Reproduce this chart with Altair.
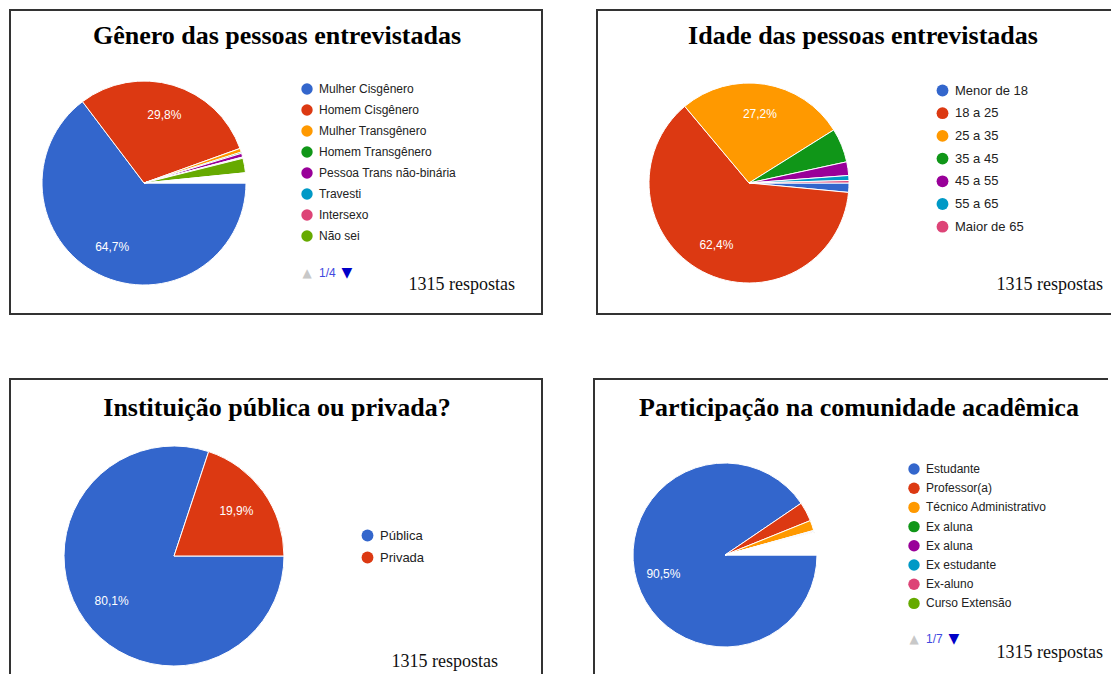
import math
import altair as alt

# ---------------- data ----------------
colors = ["#3366cc", "#dc3912", "#ff9900", "#109618", "#990099", "#0099c6", "#dd4477", "#66aa00"]

genero_title = "Gênero das pessoas entrevistadas"
genero_cats = ["Mulher Cisgênero", "Homem Cisgênero", "Mulher Transgênero", "Homem Transgênero",
               "Pessoa Trans não-binária", "Travesti", "Intersexo", "Não sei"]
genero_vals = [64.7, 29.8, 0.6, 0.2, 0.6, 0.1, 0.1, 2.3]
genero_resto = 1.6
genero_pager = "1/4"

idade_title = "Idade das pessoas entrevistadas"
idade_cats = ["Menor de 18", "18 a 25", "25 a 35", "35 a 45", "45 a 55", "55 a 65", "Maior de 65"]
idade_vals = [1.5, 62.4, 27.2, 5.5, 2.2, 0.8, 0.4]

inst_title = "Instituição pública ou privada?"
inst_cats = ["Pública", "Privada"]
inst_vals = [80.1, 19.9]

part_title = "Participação na comunidade acadêmica"
part_cats = ["Estudante", "Professor(a)", "Técnico Administrativo", "Ex aluna", "Ex aluna",
             "Ex estudante", "Ex-aluno", "Curso Extensão"]
part_vals = [90.5, 3.4, 1.8, 0.1, 0.1, 0.1, 0.1, 0.1]
part_resto = 3.8
part_pager = "1/7"

respostas = "1315 respostas"

SANS = "Liberation Sans"
SERIF = "Liberation Serif"


def fmt(v):
    return (f"{v:.1f}".replace(".", ",") + "%") if v >= 10 else ""


def one():
    return alt.Chart(alt.Data(values=[{"a": 1}]))


def panel(cats, vals, resto, w, h, cx, cy, r, title, tx, ty, lx, ly, lrow, lfont, lsym,
          rx, ry, edges, pager=None, px=0, py=0):
    keys = [f"{i}#{c}" for i, c in enumerate(cats)]
    rows = [{"key": k, "val": v, "idx": i, "label": fmt(v)} for i, (k, v) in enumerate(zip(keys, vals))]
    dom = list(keys)
    rng = colors[:len(keys)]
    if resto:
        rows.append({"key": "resto", "val": resto, "idx": len(keys), "label": ""})
        dom.append("resto")
        rng.append("#ffffff")
    base = alt.Chart(alt.Data(values=rows))
    theta_scale = alt.Scale(range=[math.pi / 2, math.pi / 2 + 2 * math.pi])
    arcs = base.mark_arc(radius=r, stroke="white", strokeWidth=1).encode(
        theta=alt.Theta("val:Q", stack=True, scale=theta_scale),
        color=alt.Color(
            "key:N",
            scale=alt.Scale(domain=dom, range=rng),
            legend=alt.Legend(
                values=keys, orient="none", legendX=lx, legendY=ly, title=None,
                direction="vertical",
                labelExpr="split(datum.label, '#')[1]",
                labelFont=SANS, labelFontSize=lfont, labelColor="#222222",
                symbolType="circle", symbolSize=lsym, symbolStrokeWidth=0,
                rowPadding=lrow, labelOffset=6, padding=0,
            ),
        ),
        order=alt.Order("idx:Q"),
        x=alt.value(cx), y=alt.value(cy),
    )
    labels = base.mark_text(radius=0.7 * r, font=SANS, fontSize=12, color="white").encode(
        theta=alt.Theta("val:Q", stack=True),
        detail="key:N",
        order=alt.Order("idx:Q"),
        text="label:N",
        x=alt.value(cx), y=alt.value(cy),
    )
    layers = [arcs, labels]
    layers.append(one().mark_text(text=title, font=SERIF, fontSize=26, fontWeight="bold",
                                  color="#000000", align="center", baseline="alphabetic")
                  .encode(x=alt.value(tx), y=alt.value(ty)))
    layers.append(one().mark_text(text=respostas, font=SERIF, fontSize=18, color="#111111",
                                  align="right", baseline="alphabetic")
                  .encode(x=alt.value(rx), y=alt.value(ry)))
    if pager:
        layers.append(one().mark_text(text="▲", font="DejaVu Sans", fontSize=12, color="#c8c8c8",
                                      align="center", baseline="middle")
                      .encode(x=alt.value(px), y=alt.value(py)))
        layers.append(one().mark_text(text=pager, font=SANS, fontSize=12, color="#3f48e0",
                                      align="left", baseline="middle")
                      .encode(x=alt.value(px + 12), y=alt.value(py)))
        layers.append(one().mark_text(text="▼", font="DejaVu Sans", fontSize=14, color="#0000c8",
                                      align="center", baseline="middle")
                      .encode(x=alt.value(px + 40), y=alt.value(py)))
    bc = "#333333"
    if "t" in edges:
        layers.append(one().mark_rule(color=bc, strokeWidth=2).encode(
            x=alt.value(0), x2=alt.value(w), y=alt.value(1)))
    if "b" in edges:
        layers.append(one().mark_rule(color=bc, strokeWidth=2).encode(
            x=alt.value(0), x2=alt.value(w), y=alt.value(h - 1)))
    if "l" in edges:
        layers.append(one().mark_rule(color=bc, strokeWidth=2).encode(
            y=alt.value(0), y2=alt.value(h), x=alt.value(1)))
    if "r" in edges:
        layers.append(one().mark_rule(color=bc, strokeWidth=2).encode(
            y=alt.value(0), y2=alt.value(h), x=alt.value(w - 1)))
    return alt.layer(*layers).properties(width=w, height=h)


p1 = panel(genero_cats, genero_vals, genero_resto, 534, 306, 135, 174, 102,
           genero_title, 268, 35, 292, 74, 9, 12, 130, 506, 281, "tblr",
           pager=genero_pager, px=298, py=264)
p2 = panel(idade_cats, idade_vals, 0, 515, 306, 153, 174, 100,
           idade_title, 267, 35, 340, 75, 8.7, 13, 140, 507, 281, "tbl")
p3 = panel(inst_cats, inst_vals, 0, 534, 296, 165, 178, 110,
           inst_title, 268, 38, 352, 151, 8, 13, 140, 489, 289, "tlr")
p4 = panel(part_cats, part_vals, part_resto, 515, 296, 132, 177, 92,
           part_title, 266, 38, 315, 85, 7.2, 12, 130, 510, 280, "tl",
           pager=part_pager, px=321, py=261)

res = dict(color="independent", theta="independent")
row1 = alt.hconcat(p1, p2, spacing=51).resolve_scale(**res).resolve_legend(color="independent")
row2 = alt.hconcat(p3, p4, spacing=48).resolve_scale(**res).resolve_legend(color="independent")

chart = (
    alt.vconcat(row1, row2, spacing=61)
    .resolve_scale(**res)
    .resolve_legend(color="independent")
    .properties(padding=0, background="white")
    .configure_view(stroke=None)
)

chart.save("out.html", embed_options={"renderer": "svg", "actions": False})
